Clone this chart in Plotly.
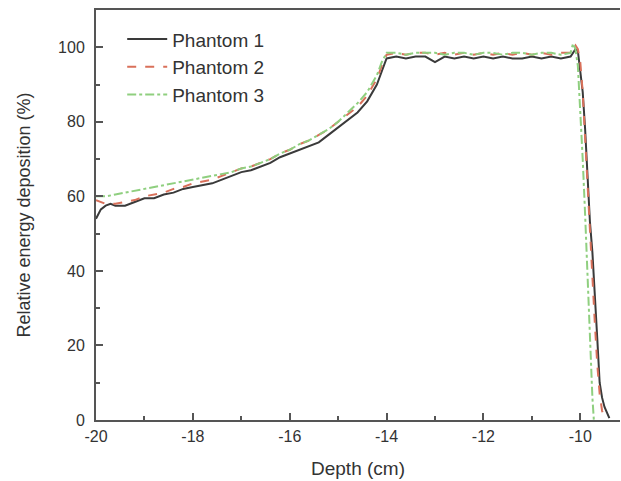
import plotly.graph_objects as go

# ---- data ----
depth_1 = [-20, -19.9, -19.8, -19.7, -19.6, -19.4, -19.2, -19.0, -18.8, -18.6, -18.4, -18.2,
           -18.0, -17.8, -17.6, -17.4, -17.2, -17.0, -16.8, -16.6, -16.4, -16.2, -16.0, -15.8,
           -15.6, -15.4, -15.2, -15.0, -14.8, -14.6, -14.4, -14.2, -14.1, -14.0, -13.8, -13.6,
           -13.4, -13.2, -13.0, -12.8, -12.6, -12.4, -12.2, -12.0, -11.8, -11.6, -11.4, -11.2,
           -11.0, -10.8, -10.6, -10.4, -10.2, -10.1, -10.05, -10.0, -9.95, -9.9, -9.85, -9.8,
           -9.75, -9.7, -9.65, -9.6, -9.55, -9.5, -9.45, -9.4]
phantom_1 = [54, 56.5, 57.5, 58, 57.5, 57.5, 58.5, 59.5, 59.5, 60.5, 61, 62,
             62.5, 63, 63.5, 64.5, 65.5, 66.5, 67, 68, 69, 70.5, 71.5, 72.5,
             73.5, 74.5, 76.5, 78.5, 80.5, 82.5, 85.5, 90, 93.5, 97, 97.5, 97,
             97.5, 97.5, 96, 97.5, 97, 97.5, 97, 97.5, 97, 97.5, 97, 97,
             97.5, 97, 97.5, 97, 97.5, 99.5, 99, 94, 88, 78, 66, 53,
             45, 35, 22, 10, 6, 3.5, 2, 0.5]

depth_2 = [-20, -19.8, -19.6, -19.4, -19.2, -19.0, -18.8, -18.6, -18.4, -18.2, -18.0, -17.8,
           -17.6, -17.4, -17.2, -17.0, -16.8, -16.6, -16.4, -16.2, -16.0, -15.8, -15.6, -15.4,
           -15.2, -15.0, -14.8, -14.6, -14.4, -14.2, -14.1, -14.0, -13.8, -13.6, -13.4, -13.2,
           -13.0, -12.8, -12.6, -12.4, -12.2, -12.0, -11.8, -11.6, -11.4, -11.2, -11.0, -10.8,
           -10.6, -10.4, -10.2, -10.1, -10.05, -10.0, -9.95, -9.9, -9.85, -9.8, -9.75, -9.7,
           -9.65, -9.6, -9.55, -9.5]
phantom_2 = [59, 58, 58, 58.5, 59, 60, 60.5, 61, 62, 62.5, 63.5, 64,
             64.5, 65.5, 66.5, 67.5, 68, 69, 70, 71.5, 72.5, 74, 75, 76.5,
             78, 80, 82, 84, 87, 91.5, 95, 98, 98.5, 98, 98.5, 98.5,
             98, 98.5, 98, 98.5, 98, 98.5, 98, 98.5, 98, 98.5, 98, 98.5,
             98, 98.5, 98.5, 100.5, 99.5, 96, 88, 75, 62, 50, 38, 26,
             15, 7, 2.5, 0]

depth_3 = [-20, -19.8, -19.6, -19.4, -19.2, -19.0, -18.8, -18.6, -18.4, -18.2, -18.0, -17.8,
           -17.6, -17.4, -17.2, -17.0, -16.8, -16.6, -16.4, -16.2, -16.0, -15.8, -15.6, -15.4,
           -15.2, -15.0, -14.8, -14.6, -14.4, -14.2, -14.1, -14.0, -13.8, -13.6, -13.4, -13.2,
           -13.0, -12.8, -12.6, -12.4, -12.2, -12.0, -11.8, -11.6, -11.4, -11.2, -11.0, -10.8,
           -10.6, -10.4, -10.2, -10.15, -10.1, -10.05, -10.0, -9.95, -9.9, -9.85, -9.8, -9.75,
           -9.72]
phantom_3 = [60, 60, 60.5, 61, 61.5, 62, 62.5, 63, 63.5, 64, 64.5, 65,
             65.5, 66, 66.5, 67.5, 68, 69, 70, 71.5, 72.5, 74, 75, 76.5,
             78, 80, 82.5, 85, 88, 92.5, 96, 98.5, 98.5, 98, 98.5, 98.5,
             98.5, 98, 98.5, 98.5, 98, 98.5, 98.5, 98, 98.5, 98.5, 98, 98.5,
             98.5, 98, 98.5, 101, 99.5, 95, 84, 70, 55, 38, 20, 6,
             0]

x_ticks = [-20, -18, -16, -14, -12, -10]
y_ticks = [0, 20, 40, 60, 80, 100]

FONT = "Liberation Sans, Arial, sans-serif"

fig = go.Figure()
fig.add_trace(go.Scatter(x=depth_1, y=phantom_1, mode="lines", name="Phantom 1",
                         line=dict(color="#3a3a3a", width=2)))
fig.add_trace(go.Scatter(x=depth_2, y=phantom_2, mode="lines", name="Phantom 2",
                         line=dict(color="#d9705a", width=2, dash="dash")))
fig.add_trace(go.Scatter(x=depth_3, y=phantom_3, mode="lines", name="Phantom 3",
                         line=dict(color="#8fcf7f", width=2, dash="dashdot")))

axis_common = dict(showgrid=False, zeroline=False, showline=True, linecolor="#555555",
                   linewidth=2, ticks="inside", ticklen=7, tickwidth=1.5,
                   tickcolor="#555555", automargin=False,
                   tickfont=dict(family=FONT, size=16, color="#333333"))

fig.update_xaxes(range=[-20, -9.18], tickvals=x_ticks, mirror=True,
                 ticktext=[str(v) for v in x_ticks], ticklabelstandoff=1,
                 title=dict(text="Depth (cm)", font=dict(family=FONT, size=19, color="#333333"),
                            standoff=17),
                 minor=dict(ticks="inside", ticklen=4, dtick=1, tickcolor="#555555"),
                 **axis_common)
fig.update_yaxes(range=[0, 110], tickvals=y_ticks, ticklabelstandoff=6, mirror=False,
                 title=dict(text="Relative energy deposition (%)",
                            font=dict(family=FONT, size=18, color="#333333"), standoff=23),
                 minor=dict(ticks="inside", ticklen=4, dtick=10, tickcolor="#555555"),
                 **axis_common)

fig.update_layout(
    width=621, height=481,
    margin=dict(l=96, r=1, t=10, b=61),
    paper_bgcolor="white", plot_bgcolor="white",
    showlegend=True,
    legend=dict(x=0.05, y=0.975, xanchor="left", yanchor="top",
                bgcolor="rgba(0,0,0,0)", font=dict(family=FONT, size=19, color="#333333"),
                itemwidth=40, tracegroupgap=0),
)

# remove the default page margin so the figure fills the window exactly
fig.write_html("out.html",
               config={"displayModeBar": False},
               post_script="document.body.style.margin='0';"
                           "document.body.style.overflow='hidden';")
